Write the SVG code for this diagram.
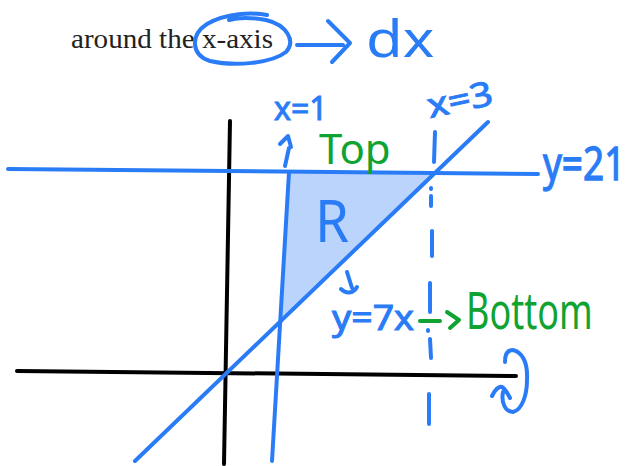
<svg xmlns="http://www.w3.org/2000/svg" width="632" height="466" viewBox="0 0 632 466">
<style>
.b{fill:none;stroke:#2a7cf6;stroke-width:4;stroke-linecap:round;stroke-linejoin:round}
.g{fill:none;stroke:#0fa332;stroke-width:4;stroke-linecap:round;stroke-linejoin:round}
.k{fill:none;stroke:#000;stroke-width:4;stroke-linecap:round}
.bt{fill:#2a7cf6;font-family:"Noto Sans","DejaVu Sans",sans-serif}
.gt{fill:#0fa332;font-family:"Noto Sans","DejaVu Sans",sans-serif}
.s{stroke:#2a7cf6;stroke-width:1}
</style>
<rect width="632" height="466" fill="#fff"/>
<g id="caption">
<text x="71" y="48" font-family="'Liberation Serif',serif" font-size="28" fill="#222" textLength="202" lengthAdjust="spacingAndGlyphs">around the x-axis</text>
<path class="b" d="M267,15 C252,12 226,13 207,24 C190,35 191,55 210,61 C235,67 272,63 286,52 C296,41 287,25 266,20 C250,17 236,18 229,20"/>
<path class="b" d="M297,45 L343,45 M328,21 L350,43 L332,62"/>
<text class="bt" transform="translate(366,57) scale(1.3,1.12)" font-size="46">dx</text>
</g>
<g id="region">
<polygon points="289,173 434,174 282,318" fill="#bad4fb"/>
<text class="bt" x="315" y="242" font-size="58" textLength="34" lengthAdjust="spacingAndGlyphs">R</text>
</g>
<g id="axes">
<path class="k" d="M230,121 L224,464"/>
<path class="k" d="M17,371 L516,376"/>
</g>
<g id="lines">
<path class="b" d="M8,169 L538,174"/>
<path class="b" d="M289,172 L272,461"/>
<path class="b" d="M488,122 L135,461"/>
<path class="b" d="M435,132 L434,162 M431,188 L431,189 M431,196 L431,206 M432,231 L432,256 M430,283 L430,312 M428,330 L428,331 M430,339 L431,358 M429,394 L429,424"/>
<path class="b" d="M285,166 L289,148 M280,144 L288,136 L291,147"/>
<path class="b" d="M347,272 L352,288 M341,289 C346,294 353,294 357,287"/>
<path class="b" d="M505,362 C505,354 508,350 513,350 C522,352 528,362 527,380 C527,395 522,410 513,412 C505,412 501,402 503,392 M492,396 C495,390 499,386 502,387 C505,389 508,394 510,398"/>
</g>
<g id="labels">
<text class="bt s" x="274" y="120" font-size="32">x=1</text>
<text class="bt s" x="430" y="118" font-size="34" textLength="66" lengthAdjust="spacingAndGlyphs" transform="rotate(-12 430 118)">x=3</text>
<text class="gt" x="319" y="164" font-size="42">Top</text>
<text class="bt s" transform="translate(543,180) scale(1,1.25)" font-size="37">y=21</text>
<text class="bt s" x="332" y="330" font-size="34" textLength="82" lengthAdjust="spacingAndGlyphs">y=7x</text>
<path class="g" d="M420,321 L440,321 M447,312 L459,320 L450,328"/>
<text class="gt" transform="translate(466,329) scale(1,1.4)" font-size="36">Bottom</text>
</g>
</svg>
